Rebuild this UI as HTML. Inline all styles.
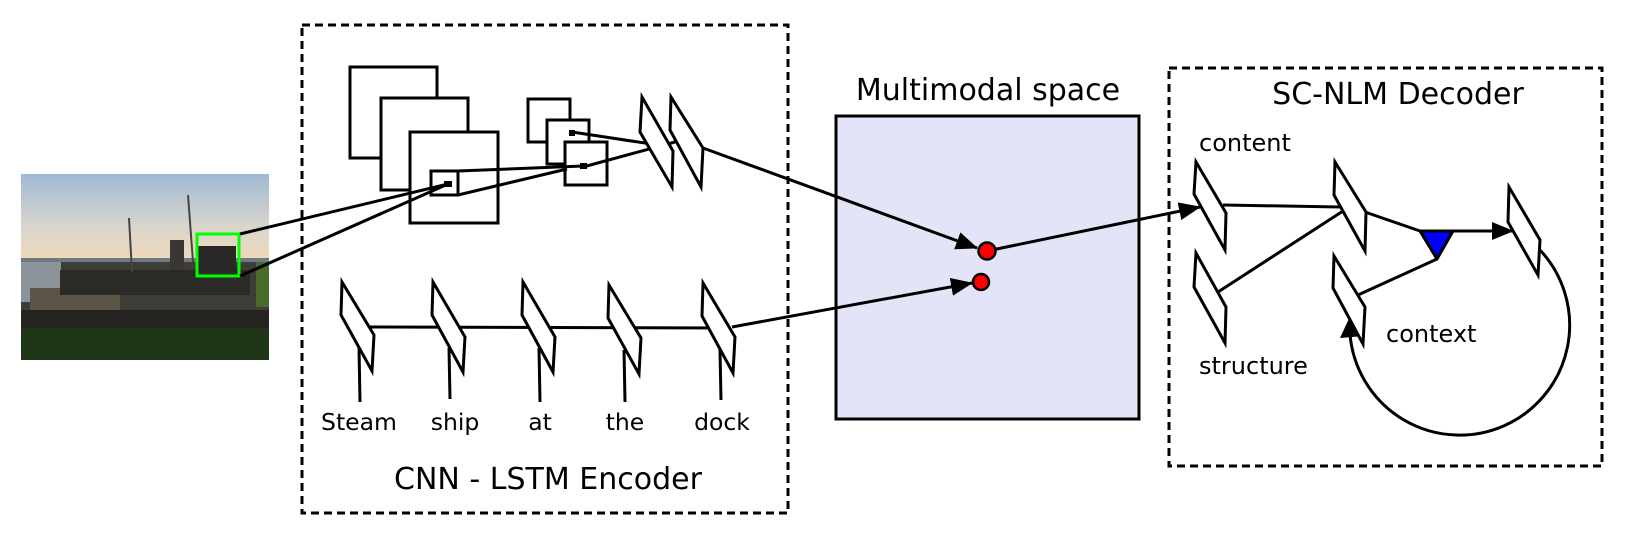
<!DOCTYPE html>
<html>
<head>
<meta charset="utf-8">
<style>
  html,body{margin:0;padding:0;background:#fff;}
  svg{display:block;}
  text{font-family:"DejaVu Sans","Liberation Sans",sans-serif;fill:#000;}
</style>
</head>
<body>
<svg width="1650" height="533" viewBox="0 0 1650 533" xmlns="http://www.w3.org/2000/svg">
  <defs>
    <linearGradient id="sky" x1="0" y1="0" x2="0" y2="1">
      <stop offset="0" stop-color="#9fb9d3"/>
      <stop offset="0.6" stop-color="#d9d6cc"/>
      <stop offset="1" stop-color="#f1d9b8"/>
    </linearGradient>
    <marker id="ah" markerWidth="22" markerHeight="18" refX="21" refY="9" orient="auto" markerUnits="userSpaceOnUse" viewBox="0 0 22 18">
      <path d="M0,0 L22,9 L0,18 z" fill="#000"/>
    </marker>
  </defs>

  <!-- Photo -->
  <g>
    <rect x="21" y="174" width="248" height="88" fill="url(#sky)"/>
    <rect x="21" y="258" width="248" height="10" fill="#6f7a80"/>
    <rect x="21" y="262" width="248" height="70" fill="#3e3c37"/>
    <rect x="21" y="262" width="40" height="40" fill="#8b949a"/>
    <rect x="30" y="288" width="90" height="22" fill="#5b5548"/>
    <rect x="60" y="270" width="190" height="25" fill="#2c2a27"/>
    <rect x="170" y="240" width="14" height="30" fill="#3a3733"/>
    <rect x="196" y="246" width="40" height="26" fill="#2a2826"/>
    <line x1="129" y1="218" x2="132" y2="272" stroke="#444" stroke-width="2"/>
    <line x1="188" y1="195" x2="193" y2="262" stroke="#444" stroke-width="2"/>
    <rect x="21" y="310" width="248" height="22" fill="#24231f"/>
    <rect x="21" y="328" width="248" height="32" fill="#1f3517"/>
    <rect x="256" y="262" width="13" height="45" fill="#4a6a2a"/>
    <rect x="197" y="234" width="42" height="42" fill="none" stroke="#00ff00" stroke-width="3"/>
  </g>

  <!-- Multimodal space -->
  <text x="988" y="100" font-size="30" text-anchor="middle">Multimodal space</text>
  <rect x="836" y="116" width="303" height="303" fill="#e3e4f8" stroke="#000" stroke-width="3"/>

  <!-- Encoder box -->
  <rect x="302" y="25" width="486" height="488" fill="none" stroke="#000" stroke-width="3" stroke-dasharray="8,5"/>
  <text x="548" y="489" font-size="30" text-anchor="middle">CNN - LSTM Encoder</text>

  <!-- CNN feature maps -->
  <g fill="#fff" stroke="#000" stroke-width="3">
    <rect x="350" y="67" width="87" height="91"/>
    <rect x="381" y="98" width="87" height="92"/>
    <rect x="410" y="132" width="88" height="91"/>
    <rect x="431" y="171" width="27" height="24"/>
    <rect x="528" y="99" width="42" height="43"/>
    <rect x="547" y="120" width="42" height="44"/>
    <rect x="565" y="142" width="42" height="43"/>
  </g>
  <rect x="444" y="181" width="8" height="6" fill="#000"/>
  <rect x="569" y="130" width="6" height="6" fill="#000"/>
  <rect x="580" y="163" width="7" height="6" fill="#000"/>
  <g stroke="#000" stroke-width="3" fill="none">
    <line x1="240" y1="234" x2="448" y2="184"/>
    <line x1="240" y1="276" x2="448" y2="184"/>
    <line x1="458" y1="171" x2="583" y2="166"/>
    <line x1="458" y1="195" x2="567" y2="169"/>
    <line x1="572" y1="132" x2="658" y2="145"/>
    <line x1="583" y1="167" x2="675" y2="142"/>
  </g>
  <g fill="#fff" stroke="#000" stroke-width="3">
    <polygon points="642,97 640,132 672,187 673,151"/>
    <polygon points="671,97 670,130 701,187 703,148"/>
  </g>
  <line x1="703" y1="148" x2="977" y2="248" stroke="#000" stroke-width="3" marker-end="url(#ah)"/>

  <!-- LSTM -->
  <line x1="370" y1="327" x2="730" y2="328" stroke="#000" stroke-width="3"/>
  <g stroke="#000" stroke-width="3">
    <line x1="360" y1="402" x2="359" y2="347"/>
    <line x1="450" y1="399" x2="449" y2="348"/>
    <line x1="540" y1="402" x2="539" y2="348"/>
    <line x1="625" y1="402" x2="624" y2="350"/>
    <line x1="721" y1="400" x2="720" y2="350"/>
  </g>
  <g fill="#fff" stroke="#000" stroke-width="3">
    <polygon points="342,282 341,315 372,371 374,335"/>
    <polygon points="433,282 432,315 463,372 465,337"/>
    <polygon points="523,282 522,315 553,372 555,337"/>
    <polygon points="609,285 608,318 639,374 641,338"/>
    <polygon points="703,283 702,316 733,373 735,337"/>
  </g>
  <g font-size="23.5" text-anchor="middle">
    <text x="359" y="430">Steam</text>
    <text x="455" y="430">ship</text>
    <text x="540" y="430">at</text>
    <text x="625" y="430">the</text>
    <text x="722" y="430">dock</text>
  </g>
  <line x1="732" y1="327" x2="972" y2="283" stroke="#000" stroke-width="3" marker-end="url(#ah)"/>

  <line x1="987" y1="251" x2="1200" y2="207" stroke="#000" stroke-width="3" marker-end="url(#ah)"/>
  <circle cx="987" cy="251" r="8.5" fill="#ff0000" stroke="#000" stroke-width="2.5"/>
  <circle cx="981" cy="282" r="8" fill="#ff0000" stroke="#000" stroke-width="2.5"/>

  <!-- Decoder -->
  <rect x="1169" y="68" width="433" height="398" fill="none" stroke="#000" stroke-width="3" stroke-dasharray="8,5"/>
  <text x="1398" y="104" font-size="30" text-anchor="middle">SC-NLM Decoder</text>
  <text x="1199" y="151" font-size="24">content</text>
  <text x="1199" y="374" font-size="24">structure</text>
  <text x="1386" y="342" font-size="24">context</text>
  <g stroke="#000" stroke-width="3" fill="none">
    <line x1="1223" y1="205" x2="1340" y2="207"/>
    <line x1="1218" y1="292" x2="1343" y2="211"/>
    <line x1="1365" y1="212" x2="1420" y2="231"/>
    <line x1="1358" y1="295" x2="1437" y2="259"/>
    <path d="M1540,250 A110,110 0 1 1 1350,334"/>
  </g>
  <path d="M1352,312 L1340,338 L1364,336 z" fill="#000"/>
  <line x1="1453" y1="231" x2="1513" y2="231" stroke="#000" stroke-width="3" marker-end="url(#ah)"/>
  <polygon points="1420,231 1453,231 1437,259" fill="#0000ff" stroke="#000" stroke-width="3" stroke-linejoin="round"/>
  <g fill="#fff" stroke="#000" stroke-width="3">
    <polygon points="1196,162 1194,194 1225,250 1226,213"/>
    <polygon points="1196,253 1194,287 1225,343 1226,307"/>
    <polygon points="1335,162 1334,195 1365,251 1366,212"/>
    <polygon points="1334,256 1333,288 1363,344 1365,307"/>
    <polygon points="1509,187 1508,222 1538,275 1540,240"/>
  </g>
</svg>
</body>
</html>
